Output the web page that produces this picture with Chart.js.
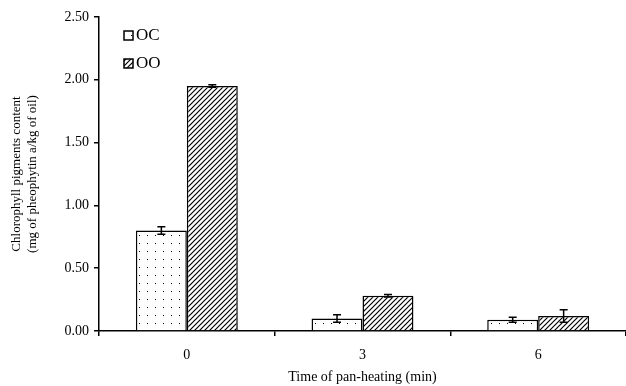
<!DOCTYPE html>
<html>
<head>
<meta charset="utf-8">
<script src="https://cdn.jsdelivr.net/npm/chart.js@4/dist/chart.umd.min.js"></script>
<style>
  html, body { margin: 0; padding: 0; background: #fff; }
  #wrap { width: 626px; height: 386px; }
</style>
</head>
<body>
<div id="wrap"><canvas id="chart"></canvas></div>
<script>
// ========== DATA ==========
const categories = ["0", "3", "6"];
const seriesNames = ["OC", "OO"];
const ocValues = [0.80, 0.10, 0.09];
const ocErrors = [0.03, 0.03, 0.02];
const ooValues = [1.95, 0.28, 0.12];
const ooErrors = [0.01, 0.01, 0.05];

const FONT = "'Liberation Serif', 'Times New Roman', serif";

// ========== FILL PATTERNS ==========
function makeDots() {
  const c = document.createElement("canvas");
  c.width = 8; c.height = 8;
  const g = c.getContext("2d");
  g.fillStyle = "#fff";
  g.fillRect(0, 0, 8, 8);
  g.fillStyle = "#000";
  g.fillRect(3, 3, 1, 1);
  return g.createPattern(c, "repeat");
}

function makeHatch() {
  const c = document.createElement("canvas");
  c.width = 5; c.height = 5;
  const g = c.getContext("2d");
  g.fillStyle = "#fff";
  g.fillRect(0, 0, 5, 5);
  g.strokeStyle = "#000";
  g.lineWidth = 1.2;
  g.beginPath();
  g.moveTo(-1, 6); g.lineTo(6, -1);
  g.moveTo(-1, 1); g.lineTo(1, -1);
  g.moveTo(4, 6); g.lineTo(6, 4);
  g.stroke();
  return g.createPattern(c, "repeat");
}

// ========== ERROR BARS ==========
const errorBars = {
  id: "errorBars",
  afterDatasetsDraw(chart) {
    const ctx = chart.ctx;
    const y = chart.scales.y;
    ctx.save();
    ctx.strokeStyle = "#000";
    ctx.lineWidth = 1.5;
    chart.data.datasets.forEach((ds, i) => {
      chart.getDatasetMeta(i).data.forEach((bar, j) => {
        const v = ds.data[j], e = ds.errors[j];
        const top = y.getPixelForValue(v + e);
        const bot = y.getPixelForValue(v - e);
        ctx.beginPath();
        ctx.moveTo(bar.x, top); ctx.lineTo(bar.x, bot);
        ctx.moveTo(bar.x - 4, top); ctx.lineTo(bar.x + 4, top);
        ctx.moveTo(bar.x - 4, bot); ctx.lineTo(bar.x + 4, bot);
        ctx.stroke();
      });
    });
    ctx.restore();
  }
};

// ========== LEGEND (inside plot, top left) ==========
const insideLegend = {
  id: "insideLegend",
  afterDraw(chart) {
    const ctx = chart.ctx;
    const area = chart.chartArea;
    ctx.save();
    ctx.font = "17px " + FONT;
    ctx.textBaseline = "middle";
    chart.data.datasets.forEach((ds, i) => {
      const bx = area.left + 25;
      const by = area.top + 14 + i * 28;
      ctx.fillStyle = ds.backgroundColor;
      ctx.fillRect(bx, by, 9, 9);
      ctx.strokeStyle = "#000";
      ctx.lineWidth = 1.5;
      ctx.strokeRect(bx, by, 9, 9);
      ctx.fillStyle = "#000";
      ctx.fillText(ds.label, bx + 12, by + 5);
    });
    ctx.restore();
  }
};

// ========== CHART ==========
new Chart(document.getElementById("chart"), {
  type: "bar",
  data: {
    labels: categories,
    datasets: [
      {
        label: seriesNames[0],
        data: ocValues,
        errors: ocErrors,
        backgroundColor: makeDots(),
        borderColor: "#000",
        borderWidth: 1.5
      },
      {
        label: seriesNames[1],
        data: ooValues,
        errors: ooErrors,
        backgroundColor: makeHatch(),
        borderColor: "#000",
        borderWidth: 1.5
      }
    ]
  },
  options: {
    responsive: true,
    maintainAspectRatio: false,
    animation: false,
    layout: { padding: { top: 17, right: 0, left: 0, bottom: 0 } },
    datasets: { bar: { categoryPercentage: 0.58, barPercentage: 1 } },
    plugins: {
      legend: { display: false },
      tooltip: { enabled: false }
    },
    scales: {
      x: {
        grid: { drawOnChartArea: false, color: "#000", tickLength: 5, lineWidth: 1.5, offset: true },
        border: { color: "#000", width: 1.5 },
        ticks: { color: "#000", font: { family: FONT, size: 14 }, padding: 11 },
        title: {
          display: true,
          text: "Time of pan-heating (min)",
          color: "#000",
          font: { family: FONT, size: 14 },
          padding: { top: 0, bottom: 0 }
        },
        afterFit(scale) { scale.height = 55; }
      },
      y: {
        min: 0,
        max: 2.5,
        grid: { drawOnChartArea: false, color: "#000", tickLength: 5, lineWidth: 1.5 },
        border: { color: "#000", width: 1.5 },
        ticks: {
          stepSize: 0.5,
          color: "#000",
          font: { family: FONT, size: 14 },
          padding: 5,
          callback: (v) => v.toFixed(2)
        },
        title: {
          display: true,
          text: ["Chlorophyll pigments content", "(mg of pheophytin a/kg of oil)"],
          color: "#000",
          font: { family: FONT, size: 13 },
          padding: { top: 9, bottom: 0 }
        },
        afterFit(scale) { scale.width = 99; }
      }
    }
  },
  plugins: [errorBars, insideLegend]
});
</script>
</body>
</html>
